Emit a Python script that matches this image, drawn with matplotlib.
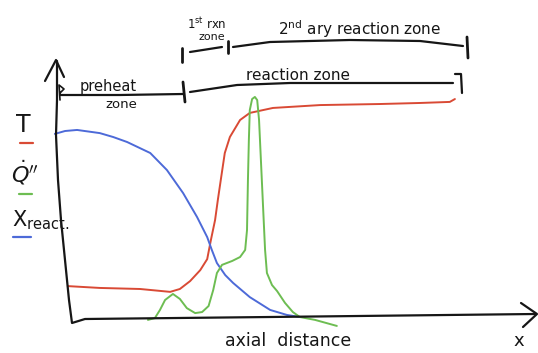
import matplotlib
matplotlib.use("Agg")
import matplotlib.pyplot as plt

# ---- data (axial distance in arbitrary units, values normalised) ----
pos_T = [-0.9, 6.0, 14.7, 21.2, 23.3, 25.5, 27.7, 29.2, 30.0, 30.9, 31.5, 32.2, 33.0,
         34.1, 36.3, 38.4, 43.4, 53.6, 66.5, 75.2, 81.6, 82.7]
temperature = [0.137, 0.130, 0.126, 0.115, 0.126, 0.156, 0.198, 0.240, 0.313, 0.389,
               0.466, 0.550, 0.645, 0.706, 0.771, 0.798, 0.817, 0.828, 0.832, 0.836,
               0.840, 0.851]

pos_X = [-3.7, -1.5, 1.1, 6.0, 8.9, 11.9, 16.9, 20.5, 24.0, 27.0, 29.2, 30.2, 31.3, 33.1,
         34.8, 38.4, 42.8, 46.4, 49.2]
reactant = [0.718, 0.729, 0.733, 0.721, 0.706, 0.687, 0.645, 0.580, 0.492, 0.401, 0.324,
            0.275, 0.225, 0.179, 0.149, 0.095, 0.046, 0.027, 0.019]

pos_Q = [16.4, 17.9, 19.0, 20.1, 21.8, 23.3, 24.8, 26.6, 28.1, 29.5, 30.5, 31.3, 32.4,
         34.6, 36.3, 37.4, 37.8, 38.0, 38.2, 38.4, 38.9, 39.5, 40.0, 40.4, 40.8, 41.3,
         41.7, 42.1, 43.2, 44.3, 46.0, 47.7, 49.2, 52.5, 57.2]
heat_release = [0.008, 0.015, 0.046, 0.084, 0.107, 0.088, 0.053, 0.034, 0.038, 0.061,
                0.122, 0.187, 0.218, 0.233, 0.248, 0.275, 0.351, 0.542, 0.695, 0.809,
                0.851, 0.859, 0.847, 0.771, 0.618, 0.427, 0.275, 0.187, 0.141, 0.118,
                0.073, 0.038, 0.019, 0.008, -0.015]

RED = "#d94a35"
BLUE = "#4d6ad8"
GREEN = "#6dbd52"
INK = "#161616"

W, H = 538, 353
fig = plt.figure(figsize=(W / 100, H / 100), dpi=100)
fig.patch.set_facecolor("white")

# data axes covering the whole figure; origin of the sketch axes at pixel (72, 322)
ax = fig.add_axes([0, 0, 1, 1])
ax.set_xlim((0 - 72) / 4.63, (W - 72) / 4.63)
ax.set_ylim((322 - H) / 262, 322 / 262)
ax.axis("off")

ax.plot(pos_T, temperature, color=RED, lw=1.4, solid_joinstyle="round", solid_capstyle="round")
ax.plot(pos_X, reactant, color=BLUE, lw=1.4, solid_joinstyle="round", solid_capstyle="round")
ax.plot(pos_Q, heat_release, color=GREEN, lw=1.4, solid_joinstyle="round", solid_capstyle="round")

# decoration axes in pixel coordinates (y downwards)
d = fig.add_axes([0, 0, 1, 1], facecolor="none")
d.set_xlim(0, W)
d.set_ylim(H, 0)
d.axis("off")

def ink(xs, ys, lw=1.6, color=INK):
    d.plot(xs, ys, color=color, lw=lw, solid_capstyle="round", solid_joinstyle="round")

# hand drawn axes
ink([57, 57, 56, 58, 61, 65, 69, 72, 85, 270, 535],
    [61, 100, 135, 180, 220, 260, 300, 323, 319, 317, 314])
ink([45, 56, 64], [81, 60, 77])           # y arrow head
ink([521, 537, 523], [303, 314, 327])     # x arrow head

# lower bar: preheat zone | reaction zone
ink([60, 59, 64, 60], [100, 85, 89, 93], lw=1.2)
ink([60, 120, 183], [95, 95, 94])
ink([183, 185], [82, 102], lw=2.0)
ink([190, 237, 290, 400, 453], [92, 85, 83, 83, 83])
ink([455, 461, 462], [74, 74, 93], lw=1.6)

# upper bar: 1st rxn zone | 2nd ary reaction zone
ink([182, 182], [48, 62], lw=2.0)
ink([190, 222], [52, 47])
ink([228, 228], [41, 53], lw=2.0)
ink([233, 270, 350, 420, 463], [47, 42, 40, 41, 46])
ink([467, 468], [37, 58], lw=2.0)

def txt(x, y, s, size, **kw):
    d.text(x, y, s, fontsize=size, color=INK, ha="center", va="center", **kw)

txt(108, 87, "preheat", 10.5)
txt(121, 105, "zone", 9.5)
txt(298, 76, "reaction zone", 11)
txt(207, 24, r"1$^{\rm st}$ rxn", 8.5)
txt(212, 37, "zone", 8)
txt(360, 29, r"2$^{\rm nd}$ ary reaction zone", 11)

# legend-like labels on the left
txt(23, 125, "T", 17)
ink([20, 33], [143, 143], lw=1.6, color=RED)
txt(25, 173, r"$\dot{Q}''$", 16)
ink([19, 32], [194, 194], lw=1.6, color=GREEN)
d.text(12, 220, r"X$_{\rm react.}$", fontsize=15, color=INK, ha="left", va="center")
ink([13, 31], [237, 237], lw=1.6, color=BLUE)

# axis title
txt(288, 341, "axial  distance", 12.5)
txt(519, 341, "x", 13)

fig.savefig("out.png", dpi=100, facecolor="white")
